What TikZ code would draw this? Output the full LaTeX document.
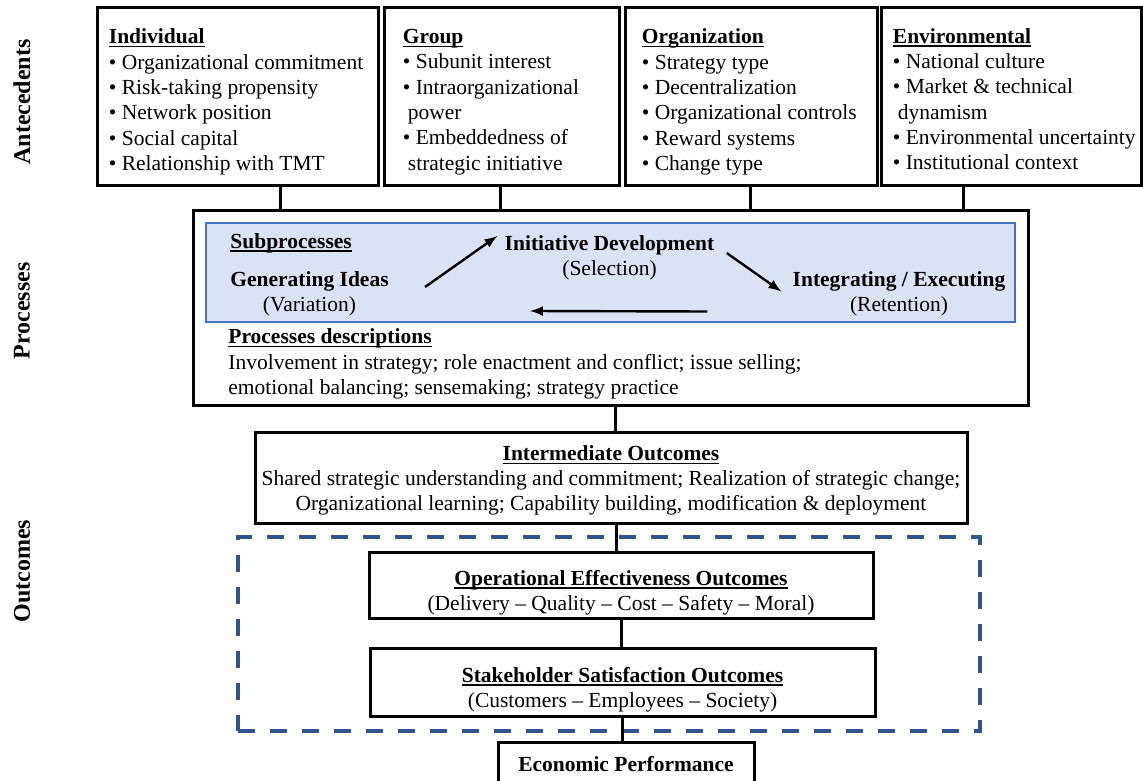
\documentclass[tikz,border=0pt]{standalone}
\usepackage{fontspec}
\setmainfont{Liberation Serif}
\usepackage{tikz}
\usetikzlibrary{positioning,calc}
\definecolor{subfill}{RGB}{218,227,243}
\definecolor{subline}{RGB}{68,114,196}
\definecolor{dashblue}{RGB}{47,85,151}
\newcommand{\hd}[1]{\textbf{\setbox0\hbox{#1}\rlap{\rule[-1.7pt]{\wd0}{0.55pt}}\box0}}

\begin{document}
\begin{tikzpicture}[x=0.5pt,y=-0.5pt,
  every node/.style={font=\fontsize{10.75}{12.65}\selectfont},
  box/.style={draw,line width=1.5pt,inner sep=0pt},
  txt/.style={inner sep=0pt,align=center},
  toptext/.style={inner sep=0pt,align=left,yshift=-2.5pt},
  side/.style={rotate=90,font=\fontsize{12}{14}\selectfont\bfseries},
  link/.style={line width=1.5pt},
  flow/.style={-latex,line width=1.2pt}]
\useasboundingbox (0,0) rectangle (1143,780);

\node[side] (ante) at (22,102) {Antecedents};
\node[side] (procl) at (22,311) {Processes};
\node[side] (outl) at (22,571) {Outcomes};

% antecedents row
\node[box,minimum width=140.5pt,minimum height=89pt] (ind) at (237.5,97) {};
\node[box,minimum width=117.5pt,minimum height=89pt] (grp) at (501.5,97) {};
\node[box,minimum width=126pt,minimum height=89pt] (org) at (751,97) {};
\node[box,minimum width=130pt,minimum height=89pt] (env) at (1011,97) {};
\node[toptext,right=6.5pt of ind.west] (indtxt) {\hd{Individual}\\
  \textbullet{} Organizational commitment\\ \textbullet{} Risk-taking propensity\\
  \textbullet{} Network position\\ \textbullet{} Social capital\\
  \textbullet{} Relationship with TMT};
\node[toptext,right=10pt of grp.west] (grptxt) {\hd{Group}\\
  \textbullet{} Subunit interest\\ \textbullet{} Intraorganizational\\
  \hspace*{2.5pt}power\\ \textbullet{} Embeddedness of\\
  \hspace*{2.5pt}strategic initiative};
\node[toptext,right=9pt of org.west] (orgtxt) {\hd{Organization}\\
  \textbullet{} Strategy type\\ \textbullet{} Decentralization\\
  \textbullet{} Organizational controls\\ \textbullet{} Reward systems\\
  \textbullet{} Change type};
\node[toptext,yshift=1.5pt,right=6.5pt of env.west] (envtxt) {\hd{Environmental}\\
  \textbullet{} National culture\\ \textbullet{} Market \& technical\\
  \hspace*{2.5pt}dynamism\\ \textbullet{} Environmental uncertainty\\
  \textbullet{} Institutional context};

% processes
\node[box,minimum width=417.5pt,minimum height=97pt] (proc) at (610.5,308) {};
\node[draw=subline,fill=subfill,line width=0.6pt,inner sep=0pt,
  minimum width=404.5pt,minimum height=49.5pt] (sub) at (610.5,272.5) {};
\node[inner sep=0pt,anchor=west] (subhd) at (230,243) {\hd{Subprocesses}};
\node[txt] (gen) at (309.5,294) {\textbf{Generating Ideas}\\(Variation)};
\node[txt] (dev) at (609.5,258) {\textbf{Initiative Development}\\(Selection)};
\node[txt] (intg) at (899,293.5) {\textbf{Integrating / Executing}\\(Retention)};
\draw[flow] ($(gen.east)+(36,-7)$) -- ($(dev.west)+(-7,-22)$);
\draw[flow] ($(dev.east)+(12,-5)$) -- ($(intg.west)+(-11,-2)$);
\draw[flow] ($(intg.west)+(-85,18)$) -- ($(gen.east)+(141,17)$);
\node[inner sep=0pt,align=left,anchor=west] (desc) at (228,364) {\hd{Processes descriptions}\\
  Involvement in strategy; role enactment and conflict; issue selling;\\
  emotional balancing; sensemaking; strategy practice};

% outcomes
\node[box,minimum width=356pt,minimum height=45.5pt] (inter) at (611,477.5) {};
\node[txt] (intertxt) at ($(inter)+(0,3)$) {\hd{Intermediate Outcomes}\\
  Shared strategic understanding and commitment; Realization of strategic change;\\
  Organizational learning; Capability building, modification \& deployment};
\node[draw=dashblue,line width=2pt,dash pattern=on 8.5pt off 7.5pt,inner sep=0pt,
  minimum width=371pt,minimum height=97pt] (outc) at (609,634) {};
\node[box,minimum width=252pt,minimum height=33pt] (oper) at (621,585) {};
\node[txt] (opertxt) at ($(oper)+(0,7.5)$) {\hd{Operational Effectiveness Outcomes}\\
  (Delivery -- Quality -- Cost -- Safety -- Moral)};
\node[box,minimum width=252.5pt,minimum height=34pt] (stak) at (622.5,682) {};
\node[txt] (staktxt) at ($(stak)+(0,7.5)$) {\hd{Stakeholder Satisfaction Outcomes}\\
  (Customers -- Employees -- Society)};
\node[box,minimum width=128pt,minimum height=22pt] (eco) at (626,764) {\textbf{Economic Performance}};

% links
\foreach \b/\dx in {ind/42.5,grp/-1.5,org/-1,env/-48}{
  \coordinate (s) at ($(\b.south)+(\dx,0)$);
  \draw[link] (s) -- (s |- proc.north);
}
\coordinate (c1) at ($(proc.south)+(4.5,0)$);
\draw[link] (c1) -- (c1 |- inter.north);
\coordinate (c2) at ($(inter.south)+(5.5,0)$);
\draw[link] (c2) -- (c2 |- oper.north);
\draw[link] (oper.south) -- (oper.south |- stak.north);
\draw[link] (stak.south) -- (stak.south |- eco.north);
\end{tikzpicture}
\end{document}
